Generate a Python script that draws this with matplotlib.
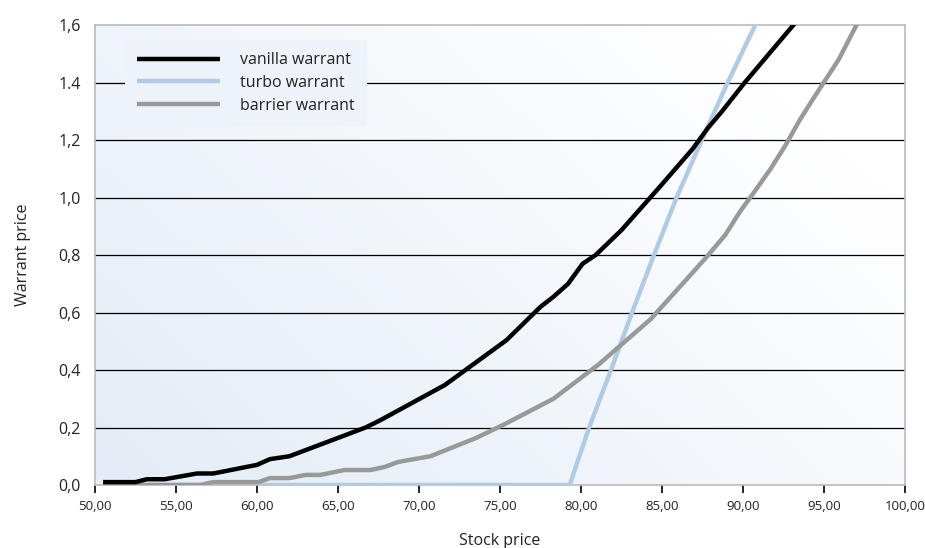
import matplotlib.pyplot as plt
import numpy as np

# Values
vanilla_x = [50.5, 52.5, 53.2, 54.3, 56.3, 57.3, 60.0, 60.8, 62.0, 66.7, 67.6, 71.6,
             75.4, 77.5, 78.3, 79.2, 80.1, 80.9, 82.5, 84.9, 86.9, 87.8, 88.7, 90.1, 93.1, 94.0]
vanilla_y = [0.01, 0.01, 0.02, 0.02, 0.04, 0.04, 0.07, 0.09, 0.10, 0.20, 0.225, 0.348,
             0.504, 0.62, 0.655, 0.70, 0.77, 0.80, 0.887, 1.04, 1.17, 1.24, 1.30, 1.40, 1.60, 1.66]

turbo_x = [50.5, 79.3, 80.5, 81.85, 83.15, 84.5, 85.9, 87.45, 89.05, 90.75, 91.2]
turbo_y = [0.0, 0.0, 0.2, 0.4, 0.6, 0.8, 1.0, 1.2, 1.4, 1.6, 1.66]

barrier_x = [50.5, 56.5, 57.3, 60.1, 60.8, 62.0, 63.0, 63.9, 65.4, 67.0, 67.9, 68.7, 70.7,
             73.5, 75.3, 78.3, 81.1, 84.3, 87.7, 88.9, 89.8, 90.7, 91.7, 92.6, 93.5, 94.4,
             95.9, 97.0, 97.4]
barrier_y = [0.0, 0.0, 0.01, 0.01, 0.024, 0.024, 0.035, 0.035, 0.052, 0.052, 0.063, 0.08, 0.10,
             0.163, 0.212, 0.30, 0.42, 0.577, 0.79, 0.87, 0.95, 1.02, 1.10, 1.18, 1.27, 1.35,
             1.48, 1.60, 1.65]

x_ticks = [50, 55, 60, 65, 70, 75, 80, 85, 90, 95, 100]
x_labels = ['50,00', '55,00', '60,00', '65,00', '70,00', '75,00', '80,00',
            '85,00', '90,00', '95,00', '100,00']
y_ticks = [0.0, 0.2, 0.4, 0.6, 0.8, 1.0, 1.2, 1.4, 1.6]
y_labels = ['0,0', '0,2', '0,4', '0,6', '0,8', '1,0', '1,2', '1.4', '1,6']

plt.rcParams['font.family'] = ['Open Sans', 'DejaVu Sans']

fig = plt.figure(figsize=(9.25, 5.48), dpi=100)
ax = fig.add_axes([0.1027, 0.115, 0.8757, 0.839])

# soft diagonal gradient: light blue bottom-left to white top-right
gx, gy = np.meshgrid(np.linspace(0, 1, 200), np.linspace(0, 1, 200))
t = np.clip((gx * 0.8 + gy * 0.5) / 1.1, 0, 1)
c0 = np.array([0.89, 0.925, 0.965])
c1 = np.array([1.0, 1.0, 1.0])
img = c0[None, None, :] * (1 - t[..., None]) + c1[None, None, :] * t[..., None]
ax.imshow(img, extent=[0, 1, 0, 1], transform=ax.transAxes, origin='lower',
          aspect='auto', zorder=0)

for yv in y_ticks[1:-1]:
    ax.axhline(yv, color='black', lw=0.9, zorder=1)

ax.plot(turbo_x, turbo_y, color='#afcbe6', lw=3.2, zorder=3, label='turbo warrant',
        solid_capstyle='butt')
ax.plot(barrier_x, barrier_y, color='#999999', lw=3.2, zorder=4, label='barrier warrant',
        solid_capstyle='butt')
ax.plot(vanilla_x, vanilla_y, color='black', lw=3.2, zorder=5, label='vanilla warrant',
        solid_capstyle='butt')

ax.set_xlim(50, 100)
ax.set_ylim(0, 1.6)
ax.set_xticks(x_ticks)
ax.set_xticklabels(x_labels, fontsize=9.5, color='#222222')
ax.set_yticks(y_ticks)
ax.set_yticklabels(y_labels, fontsize=11.5, color='#222222')
ax.tick_params(axis='x', direction='out', length=6, width=1.2, pad=5)
ax.tick_params(axis='y', length=0, pad=10)

for side in ['top', 'right', 'bottom', 'left']:
    ax.spines[side].set_color('#bbbbbb')
    ax.spines[side].set_linewidth(1.2)

ax.set_xlabel('Stock price', fontsize=11.5, labelpad=14, color='#222222', fontweight='medium')
ax.set_ylabel('Warrant price', fontsize=11.5, labelpad=20, color='#222222', fontweight='medium')

handles, labels = ax.get_legend_handles_labels()
order = [2, 0, 1]
leg = ax.legend([handles[i] for i in order], [labels[i] for i in order],
                loc='upper left', bbox_to_anchor=(0.037, 0.967), borderaxespad=0,
                frameon=True, fancybox=False, facecolor='#eef3f9', edgecolor='none',
                framealpha=1, fontsize=11.5, handlelength=5.2, handletextpad=1.25,
                labelspacing=0.42, borderpad=0.75)
leg.set_zorder(6)
for txt in leg.get_texts():
    txt.set_color('#222222')

fig.savefig('out.png', dpi=100)
